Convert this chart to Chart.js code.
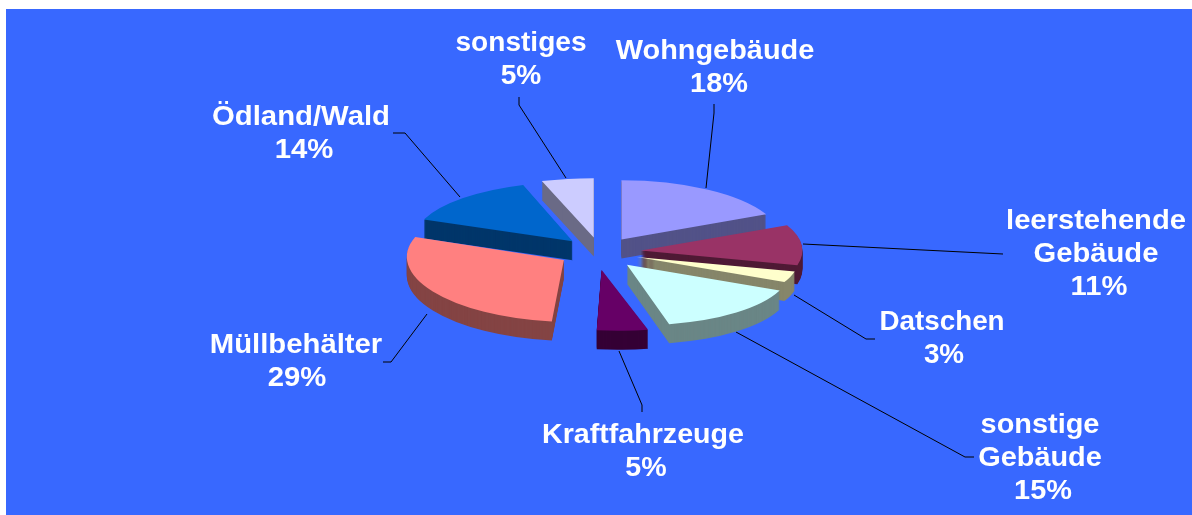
<!DOCTYPE html>
<html><head><meta charset="utf-8">
<style>html,body{margin:0;padding:0;background:#fff;overflow:hidden}canvas{display:block}</style>
<script src="https://cdn.jsdelivr.net/npm/chart.js@4"></script></head>
<body><canvas id="c" width="1192" height="515"></canvas>
<script>
const categories = ["Wohngebäude","leerstehende Gebäude","Datschen","sonstige Gebäude","Kraftfahrzeuge","Müllbehälter","Ödland/Wald","sonstiges"];
const values = [18,11,3,15,5,29,14,5];
const labelLines = [["Wohngebäude"],["leerstehende","Gebäude"],["Datschen"],["sonstige","Gebäude"],["Kraftfahrzeuge"],["Müllbehälter"],["Ödland/Wald"],["sonstiges"]];
const topColors = ["#9999FF","#993366","#FFFFCC","#CCFFFF","#660066","#FF8080","#0066CC","#CCCCFF"];
const sideColors = ["#525288","#4F1A35","#86866A","#6A8686","#350035","#844444","#00366A","#6A6A86"];
const explode = [40,41,39,44,48,42,40,40];
const shearX = [0,0,0,0.2,0.27,0.13,0,0];
const stretchX = [1,1.01,1.02,1.02,1.03,0.98,1,1.05];
const stretchY = [1,1,1,1.02,1.03,1.05,1,1];
const drawOrder = [6,7,0,1,2,5,3,4];
const labelCentres = [[715,52],[1096,222],[942,323],[1040,426],[643,436],[296,346],[301,118],[521,44]];
const percentShift = [4,3,2,3,3,1,3,0];
const labelStretch = [1.07,1.08,1.03,1.07,1.06,1.085,1.085,1.04];
const leaders = [
  [[714,104],[714,113],[706,188]],
  [[803,244],[1003,254]],
  [[794,295],[866,339],[875,339]],
  [[736,332],[965,457],[974,457]],
  [[619,351],[642,405],[642,412]],
  [[427,314],[391,362],[383,362]],
  [[393,133],[405,133],[460,197]],
  [[519,97],[519,105],[566,178]]
];
const squash = 0.37, depth = 19, lineGap = 33;

const pie3d = {
  id:'pie3d',
  beforeDraw(chart){
    const ctx = chart.ctx;
    ctx.save();
    ctx.fillStyle = '#fff'; ctx.fillRect(0,0,chart.width,chart.height);
    ctx.fillStyle = '#3868FF'; ctx.fillRect(6,9,chart.width-6,chart.height-9);
    ctx.restore();
  },
  beforeDatasetDraw(chart,args){
    const ctx = chart.ctx, arcs = chart.getDatasetMeta(args.index).data;
    const cx = arcs[0].x, cy = arcs[0].y;
    const paint = (i,dy,color)=>{
      const arc = arcs[i], proxy = Object.create(arc);
      proxy.options = {backgroundColor:color,borderColor:color,borderWidth:0,offset:0,spacing:0,borderRadius:0,circular:true,borderAlign:'center'};
      const mid = (arc.startAngle+arc.endAngle)/2;
      ctx.save();
      ctx.translate(cx+Math.cos(mid)*explode[i],cy+Math.sin(mid)*explode[i]*squash+dy);
      ctx.transform(stretchX[i],0,shearX[i],stretchY[i],0,0);
      ctx.scale(1,squash);
      ctx.translate(-cx,-cy);
      proxy.draw(ctx);
      ctx.restore();
    };
    ctx.save();
    ctx.strokeStyle='#000'; ctx.lineWidth=1;
    leaders.forEach(l=>{ctx.beginPath();l.forEach((p,k)=>k?ctx.lineTo(p[0],p[1]):ctx.moveTo(p[0],p[1]));ctx.stroke();});
    ctx.restore();
    drawOrder.forEach(i=>{
      for(let d=depth;d>=1;d--) paint(i,d,sideColors[i]);
      paint(i,0,topColors[i]);
    });
    return false;
  },
  afterDraw(chart){
    const ctx = chart.ctx;
    ctx.save();
    ctx.fillStyle='#fff'; ctx.font='bold 27px "Liberation Sans"'; ctx.textAlign='center'; ctx.textBaseline='middle';
    categories.forEach((_,i)=>{
      const lines = labelLines[i].concat(values[i]+'%');
      lines.forEach((t,k)=>{
        const shift = k===lines.length-1 ? percentShift[i] : 0;
        ctx.save();
        ctx.translate(labelCentres[i][0]+shift,labelCentres[i][1]+k*lineGap);
        ctx.scale(labelStretch[i],1);
        ctx.fillText(t,0,0);
        ctx.restore();
      });
    });
    ctx.restore();
  }
};
new Chart(document.getElementById('c'),{
  type:'pie',
  data:{labels:categories,datasets:[{data:values,backgroundColor:topColors,borderWidth:0}]},
  options:{responsive:false,animation:false,radius:160,rotation:0,
    layout:{padding:{left:8,right:0,top:0,bottom:11}},
    plugins:{legend:{display:false},tooltip:{enabled:false}}},
  plugins:[pie3d]
});
</script></body></html>
